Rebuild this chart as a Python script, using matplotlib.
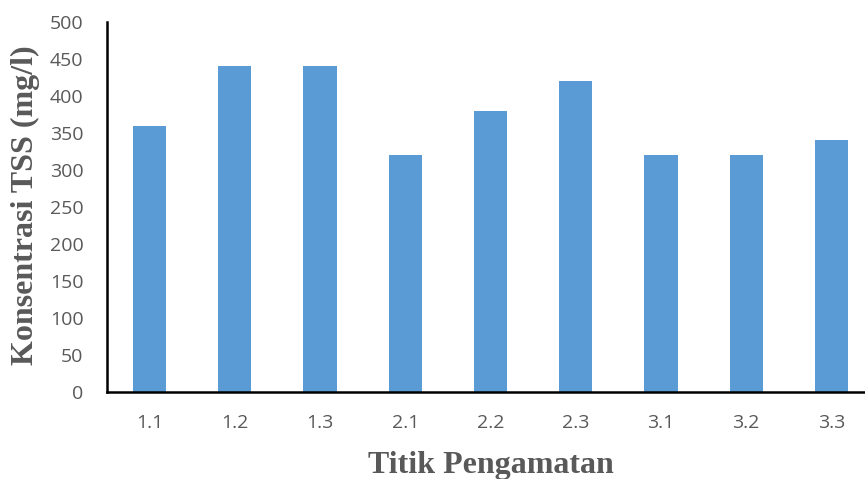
import matplotlib
matplotlib.use("Agg")
import matplotlib.pyplot as plt

titik = ["1.1", "1.2", "1.3", "2.1", "2.2", "2.3", "3.1", "3.2", "3.3"]
tss = [360, 440, 440, 320, 380, 420, 320, 320, 340]

W, H = 865, 479
fig = plt.figure(figsize=(W / 100, H / 100), dpi=100)
# the plot area runs slightly past the right edge of the picture
ax = fig.add_axes([107 / W, 1 - 392 / H, 767 / W, 370 / H])

ax.bar(range(len(titik)), tss, width=0.39, color="#5B9BD5", zorder=2)
ax.set_xlim(-0.5, len(titik) - 0.5)
ax.set_ylim(0, 500)
ax.set_yticks(range(0, 501, 50))
ax.set_xticks(range(len(titik)))
ax.set_xticklabels(titik)

for s in ["top", "right"]:
    ax.spines[s].set_visible(False)
for s in ["left", "bottom"]:
    ax.spines[s].set_linewidth(1.8)
    ax.spines[s].set_color("black")

ax.tick_params(length=0, labelsize=14, labelcolor="#595959")
ax.tick_params(axis="y", pad=17)
ax.tick_params(axis="x", pad=16)
for lab in ax.get_xticklabels() + ax.get_yticklabels():
    lab.set_family("Open Sans")

lab_font = dict(family="Liberation Serif", weight="bold", color="#595959", size=23)
fig.text(25 / W, 1 - 205 / H, "Konsentrasi TSS (mg/l)", rotation=90,
         ha="center", va="center", **lab_font)
fig.text(491 / W, 1 - 465 / H, "Titik Pengamatan", ha="center", va="center", **lab_font)

fig.savefig("out.png", dpi=100)
